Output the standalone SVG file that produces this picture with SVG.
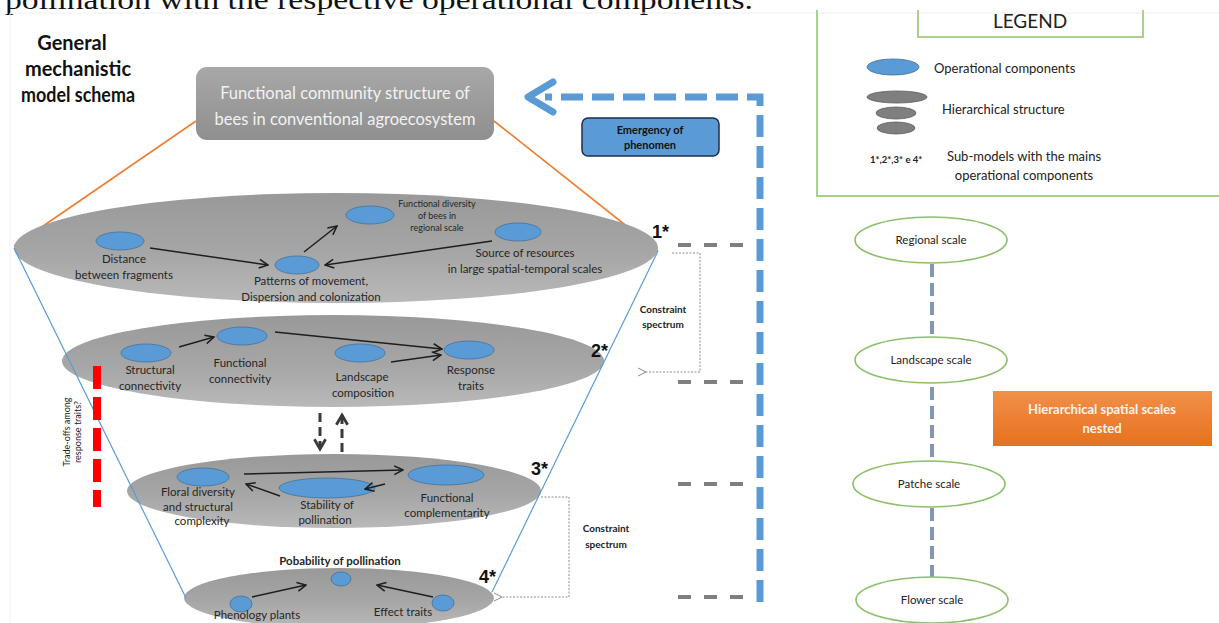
<svg xmlns="http://www.w3.org/2000/svg" width="1219" height="623" viewBox="0 0 1219 623">
  <style>
    .cap { font-family: "Liberation Serif", serif; fill: #111; }
    .lbl { font-family: Lato, "Liberation Sans", sans-serif; font-size: 11.5px; fill: #262626; text-anchor: middle; }
    .sm { font-size: 9px; }
    .b { font-weight: bold; }
    .star { font-family: "Liberation Sans", sans-serif; font-weight: bold; font-size: 18px; fill: #111; }
    .blob { fill: #5b9bd5; stroke: #41719c; stroke-width: 0.8; }
    .layer { fill: url(#layerFill); }
    .arr { stroke: #1e1e1e; stroke-width: 1.5; fill: none; marker-end: url(#vee); }
    .cone { stroke: #5b9bd5; stroke-width: 1.2; fill: none; }
    .orange { stroke: #ed7d31; stroke-width: 1.6; fill: none; }
    .gdash { stroke: #7f7f7f; stroke-width: 4; stroke-dasharray: 13 13; fill: none; }
    .dot { stroke: #8c8c8c; stroke-width: 1; stroke-dasharray: 2 1.5; fill: none; }
    .scale { fill: #fff; stroke: #8cbf6a; stroke-width: 1.6; }
    .sdash { stroke: #8497b0; stroke-width: 4; stroke-dasharray: 13 6; fill: none; }
    .green { stroke: #a9d18e; stroke-width: 2; fill: none; }
  </style>
  <defs>
    <linearGradient id="layerFill" x1="0" y1="0" x2="0" y2="1">
      <stop offset="0" stop-color="#999999"/>
      <stop offset="0.55" stop-color="#a6a6a6"/>
      <stop offset="1" stop-color="#b9b9b9"/>
    </linearGradient>
    <linearGradient id="boxFill" x1="0" y1="0" x2="0" y2="1">
      <stop offset="0" stop-color="#a8a8a8"/>
      <stop offset="1" stop-color="#8f8f8f"/>
    </linearGradient>
    <linearGradient id="orangeFill" x1="0" y1="0" x2="0" y2="1">
      <stop offset="0" stop-color="#f2904a"/>
      <stop offset="1" stop-color="#e6711d"/>
    </linearGradient>
    <marker id="vee" viewBox="0 0 10 10" refX="9" refY="5" markerWidth="11" markerHeight="11" markerUnits="userSpaceOnUse" orient="auto">
      <path d="M1,1 L9,5 L1,9" fill="none" stroke="#1e1e1e" stroke-width="1.4"/>
    </marker>
    <marker id="veeDark" viewBox="0 0 10 10" refX="8" refY="5" markerWidth="14" markerHeight="14" markerUnits="userSpaceOnUse" orient="auto">
      <path d="M1,1 L8,5 L1,9" fill="none" stroke="#3a3a3a" stroke-width="2"/>
    </marker>
    <marker id="veeGray" viewBox="0 0 10 10" refX="1" refY="5" markerWidth="10" markerHeight="10" markerUnits="userSpaceOnUse" orient="auto">
      <path d="M9,1 L1,5 L9,9" fill="none" stroke="#8c8c8c" stroke-width="1"/>
    </marker>
  </defs>

  <rect width="1219" height="623" fill="#ffffff"/>

  <!-- caption line running above the figure -->
  <text class="cap" x="5" y="9" font-size="28" textLength="748" lengthAdjust="spacingAndGlyphs">pollination with the respective operational components.</text>
  <path d="M10,623 V13 H1219" stroke="#f0f0f0" stroke-width="1" fill="none"/>

  <!-- title -->
  <g id="title" font-family="Lato, 'Liberation Sans', sans-serif" font-weight="bold" font-size="20" fill="#111" text-anchor="middle">
    <text x="72" y="50">General</text>
    <text x="78" y="76">mechanistic</text>
    <text x="78" y="102" textLength="114" lengthAdjust="spacingAndGlyphs">model schema</text>
  </g>

  <!-- funnel outline -->
  <g id="funnel-lines">
    <line class="orange" x1="196" y1="121" x2="14" y2="246"/>
    <line class="orange" x1="494" y1="121" x2="658" y2="251"/>
  </g>

  <!-- top emergent structure -->
  <g id="community-structure">
    <rect x="196" y="67" width="298" height="73" rx="11" fill="url(#boxFill)"/>
    <text x="345" y="99" font-family="Lato, 'Liberation Sans', sans-serif" font-size="16.5" fill="#f2f2f2" text-anchor="middle">Functional community structure of</text>
    <text x="345" y="125" font-family="Lato, 'Liberation Sans', sans-serif" font-size="16.5" fill="#f2f2f2" text-anchor="middle">bees in conventional agroecosystem</text>
  </g>

  <!-- level 1: regional -->
  <g id="level-1">
    <ellipse class="layer" cx="336" cy="248" rx="322" ry="55"/>
    <ellipse class="blob" cx="120" cy="241" rx="24" ry="9"/>
    <ellipse class="blob" cx="297" cy="265" rx="22" ry="9"/>
    <ellipse class="blob" cx="370" cy="215" rx="24" ry="9"/>
    <ellipse class="blob" cx="518" cy="232" rx="23" ry="9"/>
    <text class="lbl" x="124" y="263">Distance</text>
    <text class="lbl" x="124" y="279">between fragments</text>
    <text class="lbl" x="311" y="285">Patterns of movement,</text>
    <text class="lbl" x="311" y="301">Dispersion and colonization</text>
    <text class="lbl sm" x="437" y="207">Functional diversity</text>
    <text class="lbl sm" x="437" y="219">of bees in</text>
    <text class="lbl sm" x="437" y="231">regional scale</text>
    <text class="lbl" x="525" y="257">Source of resources</text>
    <text class="lbl" x="525" y="273">in large spatial-temporal scales</text>
    <path class="arr" d="M150,248 L268,265"/>
    <path class="arr" d="M304,252 L337,226"/>
    <path class="arr" d="M492,241 L325,265"/>
    <text class="star" x="652" y="238">1*</text>
  </g>

  <!-- level 2: landscape -->
  <g id="level-2">
    <ellipse class="layer" cx="333" cy="361" rx="271" ry="46"/>
    <ellipse class="blob" cx="146" cy="353" rx="25" ry="9"/>
    <ellipse class="blob" cx="242" cy="336" rx="25" ry="9"/>
    <ellipse class="blob" cx="360" cy="353" rx="25" ry="9"/>
    <ellipse class="blob" cx="469" cy="350" rx="25" ry="9"/>
    <text class="lbl" x="150" y="374">Structural</text>
    <text class="lbl" x="150" y="390">connectivity</text>
    <text class="lbl" x="240" y="367">Functional</text>
    <text class="lbl" x="240" y="383">connectivity</text>
    <text class="lbl" x="362" y="381">Landscape</text>
    <text class="lbl" x="363" y="397">composition</text>
    <text class="lbl" x="471" y="374">Response</text>
    <text class="lbl" x="471" y="390">traits</text>
    <path class="arr" d="M179,347 L214,337"/>
    <path class="arr" d="M275,332 L442,349"/>
    <path class="arr" d="M391,362 L441,355"/>
    <text class="star" x="591" y="357">2*</text>
  </g>

  <!-- level 3: patch -->
  <g id="level-3">
    <ellipse class="layer" cx="334" cy="491" rx="207" ry="37"/>
    <ellipse class="blob" cx="203" cy="477" rx="26" ry="9"/>
    <ellipse class="blob" cx="327" cy="488" rx="48" ry="10"/>
    <ellipse class="blob" cx="446" cy="475" rx="38" ry="10"/>
    <text class="lbl" x="198" y="496">Floral diversity</text>
    <text class="lbl" x="198" y="511">and structural</text>
    <text class="lbl" x="202" y="525">complexity</text>
    <text class="lbl" x="327" y="509">Stability of</text>
    <text class="lbl" x="325" y="524">pollination</text>
    <text class="lbl" x="447" y="502">Functional</text>
    <text class="lbl" x="447" y="517">complementarity</text>
    <path class="arr" d="M244,474 L403,470"/>
    <path class="arr" d="M280,496 L246,484"/>
    <path class="arr" d="M385,484 L365,489"/>
    <text class="star" x="531" y="475">3*</text>
  </g>

  <!-- level 4: flower -->
  <g id="level-4">
    <ellipse class="layer" cx="339" cy="598" rx="155" ry="30"/>
    <text class="lbl b" x="340" y="565" font-size="11">Pobability of pollination</text>
    <ellipse class="blob" cx="341" cy="579" rx="10" ry="7"/>
    <ellipse class="blob" cx="241" cy="604" rx="11" ry="8"/>
    <ellipse class="blob" cx="443" cy="603" rx="11" ry="8"/>
    <text class="lbl" x="257" y="619">Phenology plants</text>
    <text class="lbl" x="403" y="616">Effect traits</text>
    <path class="arr" d="M252,597 L306,585"/>
    <path class="arr" d="M433,597 L377,585"/>
    <text class="star" x="479" y="583">4*</text>
  </g>

  <!-- cone sides -->
  <g id="cone">
    <line class="cone" x1="14" y1="248" x2="186" y2="598"/>
    <line class="cone" x1="658" y1="251" x2="492" y2="592"/>
  </g>

  <!-- trade-offs marker -->
  <g id="trade-offs">
    <line x1="97" y1="366" x2="97" y2="507" stroke="#ff0000" stroke-width="8" stroke-dasharray="23 8"/>
    <g transform="translate(70,432) rotate(-90)" font-family="Lato, 'Liberation Sans', sans-serif" font-size="9" fill="#222" text-anchor="middle">
      <text x="0" y="0">Trade-offs among</text>
      <text x="0" y="11">response traits?</text>
    </g>
  </g>

  <!-- connectors -->
  <g id="connectors">
    <!-- exchange between landscape and patch levels -->
    <path d="M320,413 V449" stroke="#3a3a3a" stroke-width="3" stroke-dasharray="9 5" fill="none" marker-end="url(#veeDark)"/>
    <path d="M342,452 V415" stroke="#3a3a3a" stroke-width="3" stroke-dasharray="9 5" fill="none" marker-end="url(#veeDark)"/>
    <!-- level ties to emergence line -->
    <line class="gdash" x1="678" y1="245" x2="750" y2="245"/>
    <line class="gdash" x1="678" y1="382" x2="750" y2="382"/>
    <line class="gdash" x1="678" y1="484" x2="750" y2="484"/>
    <line class="gdash" x1="678" y1="597" x2="750" y2="597"/>
    <!-- emergence line -->
    <path d="M760,602 V97 H545" stroke="#5b9bd5" stroke-width="7" stroke-dasharray="22 9" fill="none"/>
    <polyline points="553,82 528,97 553,112" stroke="#5b9bd5" stroke-width="7" stroke-linecap="round" stroke-linejoin="round" fill="none"/>
    <!-- constraint spectrum -->
    <path class="dot" d="M672,253 H700 V372 H646" marker-end="url(#veeGray)"/>
    <path class="dot" d="M541,497 H569 V597 H502" marker-end="url(#veeGray)"/>
  </g>

  <g id="constraint-labels" font-family="Lato, 'Liberation Sans', sans-serif" font-weight="bold" font-size="10" fill="#222" text-anchor="middle">
    <text x="663" y="313">Constraint</text>
    <text x="663" y="328">spectrum</text>
    <text x="606" y="532">Constraint</text>
    <text x="606" y="548">spectrum</text>
  </g>

  <g id="emergency">
    <rect x="582" y="118" width="137" height="38" rx="6" fill="#5b9bd5" stroke="#1f2d4d" stroke-width="1.5"/>
    <text x="650" y="134" font-family="Lato, 'Liberation Sans', sans-serif" font-weight="bold" font-size="11" fill="#111" text-anchor="middle">Emergency of</text>
    <text x="650" y="149" font-family="Lato, 'Liberation Sans', sans-serif" font-weight="bold" font-size="11" fill="#111" text-anchor="middle">phenomen</text>
  </g>

  <!-- legend -->
  <g id="legend" font-family="Lato, 'Liberation Sans', sans-serif" fill="#222">
    <path class="green" d="M817,10 V196 H1219"/>
    <path class="green" d="M918,10 V37 H1143 V10"/>
    <text x="1030" y="28" font-size="19" text-anchor="middle">LEGEND</text>
    <ellipse class="blob" cx="893" cy="67" rx="26" ry="8"/>
    <text x="934" y="73" font-size="13">Operational components</text>
    <ellipse cx="897" cy="97" rx="30" ry="6" fill="#7f7f7f" stroke="#5a5a5a" stroke-width="0.8"/>
    <ellipse cx="896" cy="113" rx="20" ry="6" fill="#7f7f7f" stroke="#5a5a5a" stroke-width="0.8"/>
    <ellipse cx="896" cy="128" rx="19" ry="6" fill="#7f7f7f" stroke="#5a5a5a" stroke-width="0.8"/>
    <text x="942" y="114" font-size="13">Hierarchical structure</text>
    <text x="870" y="163" font-size="9.5" font-weight="bold">1*,2*,3* e 4*</text>
    <text x="1024" y="161" font-size="13" text-anchor="middle">Sub-models with the mains</text>
    <text x="1024" y="180" font-size="13" text-anchor="middle">operational components</text>
  </g>

  <!-- nested spatial scales -->
  <g id="scale-links">
    <line class="sdash" x1="932" y1="264" x2="932" y2="336"/>
    <line class="sdash" x1="932" y1="387" x2="932" y2="459"/>
    <line class="sdash" x1="932" y1="508" x2="932" y2="577"/>
  </g>
  <g id="regional-scale">
    <ellipse class="scale" cx="931" cy="240" rx="76" ry="23"/>
    <text x="931" y="244" font-family="Lato, 'Liberation Sans', sans-serif" font-size="11.5" fill="#222" text-anchor="middle">Regional scale</text>
  </g>
  <g id="landscape-scale">
    <ellipse class="scale" cx="931" cy="360" rx="76" ry="23"/>
    <text x="931" y="364" font-family="Lato, 'Liberation Sans', sans-serif" font-size="11.5" fill="#222" text-anchor="middle">Landscape scale</text>
  </g>
  <g id="patche-scale">
    <ellipse class="scale" cx="929" cy="484" rx="76" ry="23"/>
    <text x="929" y="488" font-family="Lato, 'Liberation Sans', sans-serif" font-size="11.5" fill="#222" text-anchor="middle">Patche scale</text>
  </g>
  <g id="flower-scale">
    <ellipse class="scale" cx="932" cy="600" rx="76" ry="23"/>
    <text x="932" y="604" font-family="Lato, 'Liberation Sans', sans-serif" font-size="11.5" fill="#222" text-anchor="middle">Flower scale</text>
  </g>
  <g id="nested-scales-note">
    <rect x="993" y="391" width="219" height="55" fill="url(#orangeFill)"/>
    <text x="1102" y="414" font-family="Lato, 'Liberation Sans', sans-serif" font-weight="bold" font-size="13" fill="#fff3ea" text-anchor="middle">Hierarchical spatial scales</text>
    <text x="1102" y="433" font-family="Lato, 'Liberation Sans', sans-serif" font-weight="bold" font-size="13" fill="#fff3ea" text-anchor="middle">nested</text>
  </g>
</svg>
